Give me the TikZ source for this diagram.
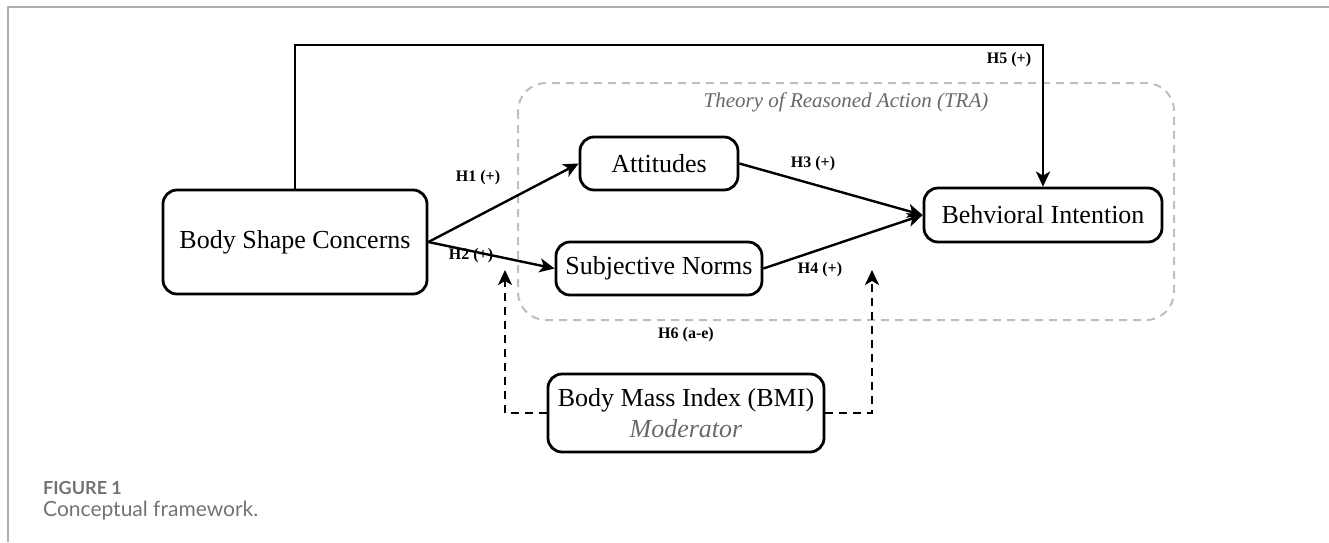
\documentclass[tikz,border=0pt]{standalone}
\usepackage{fontspec}
\setmainfont{Liberation Serif}
\newfontfamily\captionfont{Lato}
\usetikzlibrary{arrows.meta}
\definecolor{framegray}{RGB}{175,175,175}
\definecolor{tragray}{RGB}{190,190,190}
\definecolor{textgray}{RGB}{105,105,105}
\definecolor{capgray}{RGB}{115,115,115}

\begin{document}
\begin{tikzpicture}[x=0.5pt,y=-0.5pt,-{Stealth[length=7.5pt,width=7pt,inset=2pt]},line width=1.2pt]
			\tikzstyle{construct} = [rectangle,draw,rounded corners=7pt,line width=1.4pt,font=\fontsize{13}{15.5}\selectfont,align=center,inner sep=0pt]
			\tikzstyle{hyp}       = [font=\fontsize{8}{9}\selectfont\bfseries,inner sep=1pt]
			\tikzstyle{moderation} = [dashed,dash pattern=on 4pt off 3pt,line width=1.3pt]
			
			\useasboundingbox (0,0) rectangle (1329,542);
			\draw[-,framegray,line width=0.8pt] (8,542) -- (8,7) -- (1329,7);
			
			% TRA frame
			\draw[-,tragray,line width=1pt,dash pattern=on 4pt off 3pt,rounded corners=14pt] (518,83) rectangle (1174,320);
			\node[font=\fontsize{10.5}{12}\selectfont\itshape,text=textgray] (tra) at (846,102) {Theory of Reasoned Action (TRA)};
			
			\node[construct,minimum width=132pt,minimum height=52pt] (bsc) at (295,242) {Body Shape Concerns};
			\node[construct,minimum width=79pt,minimum height=26.5pt] (att) at (659,163.5) {Attitudes};
			\node[construct,minimum width=103pt,minimum height=26.5pt] (sn) at (659,268.5) {Subjective Norms};
			\node[construct,minimum width=119pt,minimum height=27pt] (bi) at (1043,215) {Behvioral Intention};
			\node[construct,minimum width=138pt,minimum height=39pt] (bmi) at (686,413) {Body Mass Index (BMI)\\{\color{textgray}\itshape Moderator}};
			
			\coordinate (h5top) at (1043,45);
			\coordinate (h6l) at (505,270);
			\coordinate (h6r) at (872,270);
			
			\path (bsc.east) edge (att.west) ;
			\path (bsc.east) edge (sn.west) ;
			\path (att.east) edge (bi.west) ;
			\path (sn.east) edge (bi.west) ;
			\draw (bsc.north) |- (h5top) -- (bi.north) ;
			\draw[moderation] (bmi.west) -| (h6l) ;
			\draw[moderation] (bmi.east) -| (h6r) ;
			
			\node[hyp] (h1) at (478,178) {H1 (+)};
			\node[hyp] (h2) at (471,256) {H2 (+)};
			\node[hyp] (h3) at (813,164) {H3 (+)};
			\node[hyp] (h4) at (820,270) {H4 (+)};
			\node[hyp] (h5) at (1009,60) {H5 (+)};
			\node[hyp] (h6) at (686,335) {H6 (a-e)};
			
			% caption
			\node[anchor=west,inner sep=0pt,text=capgray,font=\captionfont\fontsize{9}{10}\selectfont\bfseries] (fig) at (42,488) {FIGURE 1};
			\node[anchor=west,inner sep=0pt,text=capgray,font=\captionfont\fontsize{10.5}{12}\selectfont] (cap) at (42,511) {Conceptual framework.};
		\end{tikzpicture}
\end{document}
